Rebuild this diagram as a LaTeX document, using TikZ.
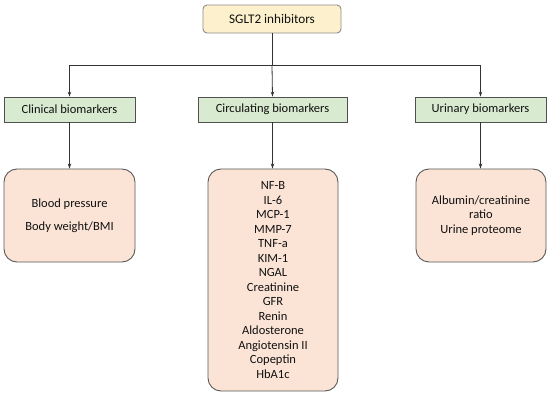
\documentclass[tikz,border=0pt]{standalone}
\usepackage{fontspec}
\setmainfont{Carlito}
\usetikzlibrary{arrows.meta}
\definecolor{topfill}{HTML}{FDF0CC}
\definecolor{topdraw}{HTML}{8C8C8C}
\definecolor{catfill}{HTML}{D8EACF}
\definecolor{catdraw}{HTML}{505050}
\definecolor{valfill}{HTML}{FBE4D6}
\definecolor{valdraw}{HTML}{5A5A5A}
\definecolor{txt}{HTML}{111111}
\definecolor{linec}{HTML}{333333}
\tikzset{
  topbox/.style={draw=topdraw, fill=topfill, rounded corners=4pt, line width=0.9pt,
    minimum width=138pt, minimum height=28pt, inner sep=0pt, text=txt,
    font=\fontsize{13.2}{15}\selectfont},
  catbox/.style={draw=catdraw, fill=catfill, line width=0.8pt,
    minimum height=25pt, inner sep=0pt, text=txt,
    font=\fontsize{12.5}{15}\selectfont},
  valbox/.style={draw=valdraw, fill=valfill, rounded corners=13pt, line width=0.9pt,
    inner sep=0pt, text=txt, align=center,
    font=\fontsize{12.5}{14.5}\selectfont},
  conn/.style={draw=linec, line width=0.8pt},
  arr/.style={conn, -{Stealth[length=5pt,width=3.5pt]}}
}
\begin{document}
\begin{tikzpicture}[x=1pt,y=-1pt]
\useasboundingbox (0,0) rectangle (550,404);
\node[topbox] (top) at (272,19) {SGLT2 inhibitors};
\coordinate (junc) at (272,65);
\node[catbox, minimum width=131pt] (clin) at (69.5,109.5) {Clinical biomarkers};
\node[catbox, minimum width=149pt] (circ) at (272.5,109.5) {Circulating biomarkers};
\node[catbox, minimum width=131pt] (uri) at (480.5,109.5) {Urinary biomarkers};
\node[valbox, minimum width=131pt, minimum height=93pt] (clinv) at (69.5,215.5)
  {Blood pressure\\[8pt]Body weight/BMI};
\node[valbox, minimum width=130pt, minimum height=222pt] (circv) at (273,280)
  {NF-B\\IL-6\\MCP-1\\MMP-7\\TNF-a\\KIM-1\\NGAL\\Creatinine\\GFR\\Renin\\Aldosterone\\Angiotensin II\\Copeptin\\HbA1c};
\node[valbox, minimum width=130pt, minimum height=93pt] (uriv) at (481,215.5)
  {Albumin/creatinine\\ratio\\Urine proteome};
\draw[conn] (top.south) -- (junc);
\draw[arr] (junc) -| (clin.north);
\draw[arr] (junc) -| (uri.north);
\draw[arr] (junc) -- (circ.north);
\draw[arr] (clin.south) -- (clinv.north);
\draw[arr] (circ.south) -- (circ.south |- circv.north);
\draw[arr] (uri.south) -- (uri.south |- uriv.north);
\end{tikzpicture}
\end{document}
